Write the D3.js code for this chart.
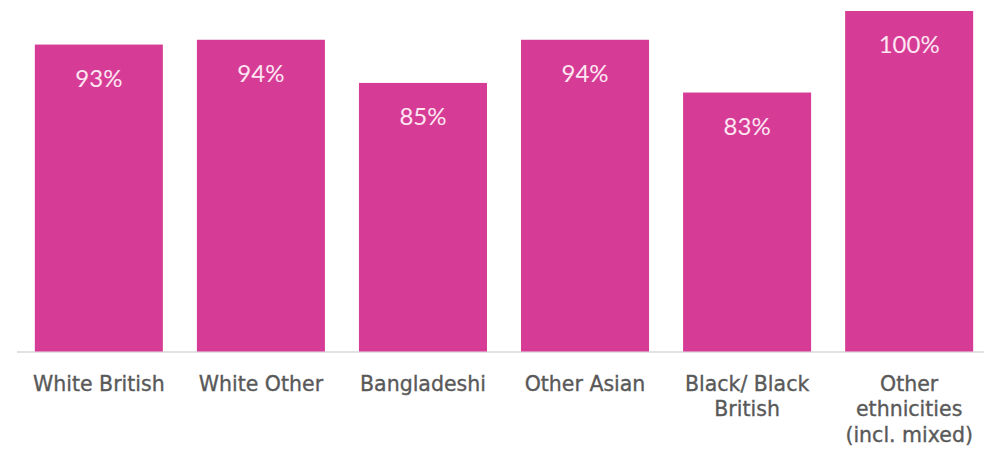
<!DOCTYPE html>
<html>
<head>
<meta charset="utf-8">
<script src="https://cdn.jsdelivr.net/npm/d3@7"></script>
<style>
  html, body { margin: 0; padding: 0; background: #ffffff; }
  svg { display: block; }
</style>
</head>
<body>
<svg id="chart" width="984" height="451"></svg>
<script>
// Share of respondents by ethnic group
const categories = [
  ["White British"],
  ["White Other"],
  ["Bangladeshi"],
  ["Other Asian"],
  ["Black/ Black", "British"],
  ["Other", "ethnicities", "(incl. mixed)"]
];
const values = [93, 94, 85, 94, 83, 100];
const valueLabels = ["93%", "94%", "85%", "94%", "83%", "100%"];
const axisMin = 29;
const axisMax = 100;

const width = 984, height = 451;
const baseY = 351.5, topY = 11;
const barColor = "#d63c96";

const svg = d3.select("#chart");

const x = d3.scaleBand()
  .domain(d3.range(categories.length))
  .range([17, 991])
  .paddingInner(0.21)
  .paddingOuter(0.11);

const y = d3.scaleLinear()
  .domain([axisMin, axisMax])
  .range([baseY, topY]);

// baseline
svg.append("line")
  .attr("x1", 17).attr("x2", width)
  .attr("y1", baseY + 0.5).attr("y2", baseY + 0.5)
  .attr("stroke", "#d9d9d9")
  .attr("stroke-width", 1.5);

// bars
svg.append("g").selectAll("rect")
  .data(values)
  .join("rect")
  .attr("x", (d, i) => x(i))
  .attr("y", d => y(d))
  .attr("width", x.bandwidth())
  .attr("height", d => baseY - y(d))
  .attr("fill", barColor);

// value labels inside bars
svg.append("g").selectAll("text")
  .data(values)
  .join("text")
  .attr("x", (d, i) => x(i) + x.bandwidth() / 2)
  .attr("y", d => y(d) + 34)
  .attr("dy", "0.35em")
  .attr("text-anchor", "middle")
  .attr("font-family", "Lato, 'Open Sans', sans-serif")
  .attr("font-size", 24)
  .attr("fill", "#fde6f2")
  .text((d, i) => valueLabels[i]);

// category labels
const axis = d3.axisBottom(x).tickSize(0).tickFormat(() => "");
const gAxis = svg.append("g")
  .attr("transform", `translate(0,${baseY})`)
  .call(axis);
gAxis.select(".domain").remove();

gAxis.selectAll(".tick").each(function(i) {
  const t = d3.select(this).append("text")
    .attr("text-anchor", "middle")
    .attr("font-family", "'DejaVu Sans', Verdana, sans-serif")
    .attr("font-size", 20.5)
    .attr("fill", "#595959")
    .attr("stroke", "#595959")
    .attr("stroke-width", 0.35);
  categories[i].forEach((line, k) => {
    t.append("tspan")
      .attr("x", 0)
      .attr("y", 39 + k * 25.5)
      .text(line);
  });
});
</script>
</body>
</html>
